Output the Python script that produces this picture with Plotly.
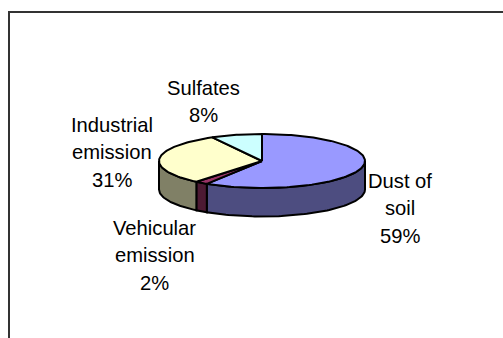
import math
import plotly.graph_objects as go

# Composition of the particulate sources, in percent, clockwise from 12 o'clock
categories = ["Dust of soil", "Vehicular emission", "Industrial emission", "Sulfates"]
shares = [59, 2, 31, 8]
top_colors = ["#9999FF", "#993366", "#FFFFCC", "#CCFFFF"]
wall_colors = ["#4D4D80", "#4D1A33", "#808066", "#668080"]
label_lines = [["Dust of", "soil"], ["Vehicular", "emission"], ["Industrial", "emission"], ["Sulfates"]]

# Drawing space is the page in pixels; the disc is projected into it
WIDTH, HEIGHT = 503, 338
CX, CY, RX, RY, DEPTH = 262, 161, 103, 27, 28.5
LABEL_X = [400, 154.5, 112, 203]
LABEL_Y = [181, 228, 125, 88]
LINE_GAP = 27.4


def rim(deg):
    a = math.radians(deg)
    return CX + RX * math.sin(a), CY - RY * math.cos(a)


def arc(start, end):
    steps = max(2, int(abs(end - start) / 1.5) + 1)
    return [rim(start + (end - start) * i / steps) for i in range(steps + 1)]


fig = go.Figure()
total = sum(shares)
edges = [0]
for value in shares:
    edges.append(edges[-1] + value / total * 360)

# Outer wall: only the part of the rim that faces the viewer
for i in range(len(shares)):
    lo, hi = max(edges[i], 90), min(edges[i + 1], 270)
    if lo >= hi:
        continue
    upper = arc(lo, hi)
    pts = upper + [(x, y + DEPTH) for x, y in reversed(upper)] + [upper[0]]
    fig.add_trace(go.Scatter(
        x=[p[0] for p in pts], y=[p[1] for p in pts], mode="lines", fill="toself",
        fillcolor=wall_colors[i], line=dict(color="black", width=2),
        hoverinfo="skip", showlegend=False))

# Top face wedges
for i, name in enumerate(categories):
    pts = [(CX, CY)] + arc(edges[i], edges[i + 1]) + [(CX, CY)]
    fig.add_trace(go.Scatter(
        x=[p[0] for p in pts], y=[p[1] for p in pts], mode="lines", fill="toself",
        fillcolor=top_colors[i], line=dict(color="black", width=2),
        name=name, hoverinfo="name", showlegend=False))

# Category name and share, one text line at a time
for i, value in enumerate(shares):
    lines = label_lines[i] + [f"{value}%"]
    for j, text in enumerate(lines):
        fig.add_annotation(x=LABEL_X[i], y=LABEL_Y[i] + j * LINE_GAP, text=text,
                           showarrow=False, xanchor="center", yanchor="middle",
                           font=dict(family="Liberation Sans, Arial", size=20.2, color="black"))

# Chart-area border, running off the right and bottom of the page
fig.add_shape(type="rect", x0=9, y0=12, x1=WIDTH + 20, y1=HEIGHT + 20,
              line=dict(color="#333333", width=2), fillcolor="rgba(0,0,0,0)", layer="below")

fig.update_layout(
    width=WIDTH, height=HEIGHT, margin=dict(l=0, r=0, t=0, b=0),
    paper_bgcolor="white", plot_bgcolor="white", showlegend=False,
    xaxis=dict(range=[0, WIDTH], visible=False, fixedrange=True),
    yaxis=dict(range=[HEIGHT, 0], visible=False, fixedrange=True),
)
fig.write_html("out.html", config=dict(displayModeBar=False))
